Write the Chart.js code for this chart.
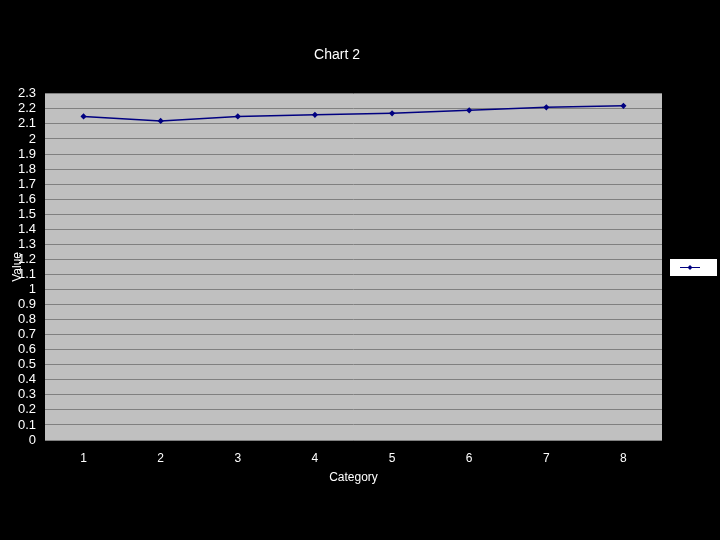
<!DOCTYPE html>
<html>
<head>
<meta charset="utf-8">
<script src="https://cdn.jsdelivr.net/npm/chart.js@4"></script>
<style>
  html, body { margin: 0; padding: 0; background: #000; }
  #wrap { width: 720px; height: 540px; }
</style>
</head>
<body>
<div id="wrap"><canvas id="myChart" width="720" height="540"></canvas></div>
<script>
const categories = ['1', '2', '3', '4', '5', '6', '7', '8'];
const values = [2.15, 2.12, 2.15, 2.16, 2.17, 2.19, 2.21, 2.22];
const yTicks = [0, 0.1, 0.2, 0.3, 0.4, 0.5, 0.6, 0.7, 0.8, 0.9, 1, 1.1, 1.2, 1.3, 1.4, 1.5, 1.6, 1.7, 1.8, 1.9, 2, 2.1, 2.2, 2.3];

const font = "'Liberation Sans', Arial, sans-serif";

// grey plot area + small legend box on the right
const plotBg = {
    id: 'plotBg',
    beforeDraw(chart) {
        const { ctx, chartArea: a } = chart;
        ctx.save();
        ctx.fillStyle = '#c0c0c0';
        ctx.fillRect(a.left, a.top, a.right - a.left, a.bottom - a.top);
        ctx.restore();
    },
    afterDraw(chart) {
        const { ctx, chartArea: a } = chart;
        ctx.save();
        ctx.strokeStyle = '#808080';
        ctx.lineWidth = 1;
        ctx.beginPath();
        ctx.moveTo(a.left, a.bottom + 0.5);
        ctx.lineTo(a.right, a.bottom + 0.5);
        ctx.stroke();
        // legend
        const ds = chart.data.datasets[0];
        ctx.fillStyle = '#ffffff';
        ctx.fillRect(670, 259, 47, 17);
        ctx.strokeStyle = ds.borderColor;
        ctx.beginPath();
        ctx.moveTo(680, 267.5);
        ctx.lineTo(700, 267.5);
        ctx.stroke();
        ctx.fillStyle = ds.borderColor;
        ctx.beginPath();
        ctx.moveTo(690, 265); ctx.lineTo(692.5, 267.5); ctx.lineTo(690, 270); ctx.lineTo(687.5, 267.5);
        ctx.closePath();
        ctx.fill();
        ctx.restore();
    }
};

new Chart('myChart', {
    type: 'line',
    data: {
        labels: categories,
        datasets: [{
            label: '',
            data: values,
            borderColor: '#000080',
            backgroundColor: '#000080',
            borderWidth: 1.5,
            pointStyle: 'rectRot',
            pointRadius: 2,
            tension: 0
        }]
    },
    options: {
        responsive: false,
        animation: false,
        layout: { padding: { left: 12, right: 58, top: 0, bottom: 55 } },
        plugins: {
            legend: { display: false },
            tooltip: { enabled: false },
            title: {
                display: true,
                text: 'Chart 2',
                color: '#ffffff',
                font: { family: font, size: 14, weight: 'normal' },
                padding: { top: 47, bottom: 30 }
            }
        },
        scales: {
            x: {
                offset: true,
                grid: { display: false, drawTicks: false },
                border: { display: false },
                ticks: { color: '#ffffff', font: { family: font, size: 12 }, padding: 11 },
                title: {
                    display: true,
                    text: 'Category',
                    color: '#ffffff',
                    font: { family: font, size: 12 },
                    padding: { top: 1, bottom: 0 }
                },
                afterFit(scale) { scale.height = 45; }
            },
            y: {
                min: 0,
                max: 2.3,
                grid: { color: '#808080', lineWidth: 1, drawTicks: false },
                border: { display: false },
                ticks: {
                    color: '#ffffff',
                    font: { family: font, size: 13 },
                    padding: 9,
                    autoSkip: false,
                    callback: (v) => String(+(+v).toFixed(1))
                },
                afterBuildTicks(scale) { scale.ticks = yTicks.map(v => ({ value: v })); },
                title: {
                    display: true,
                    text: 'Value',
                    color: '#ffffff',
                    font: { family: font, size: 12 },
                    padding: { top: -2, bottom: 0 }
                },
                afterFit(scale) { scale.width = 33; }
            }
        }
    },
    plugins: [plotBg]
});
</script>
</body>
</html>
